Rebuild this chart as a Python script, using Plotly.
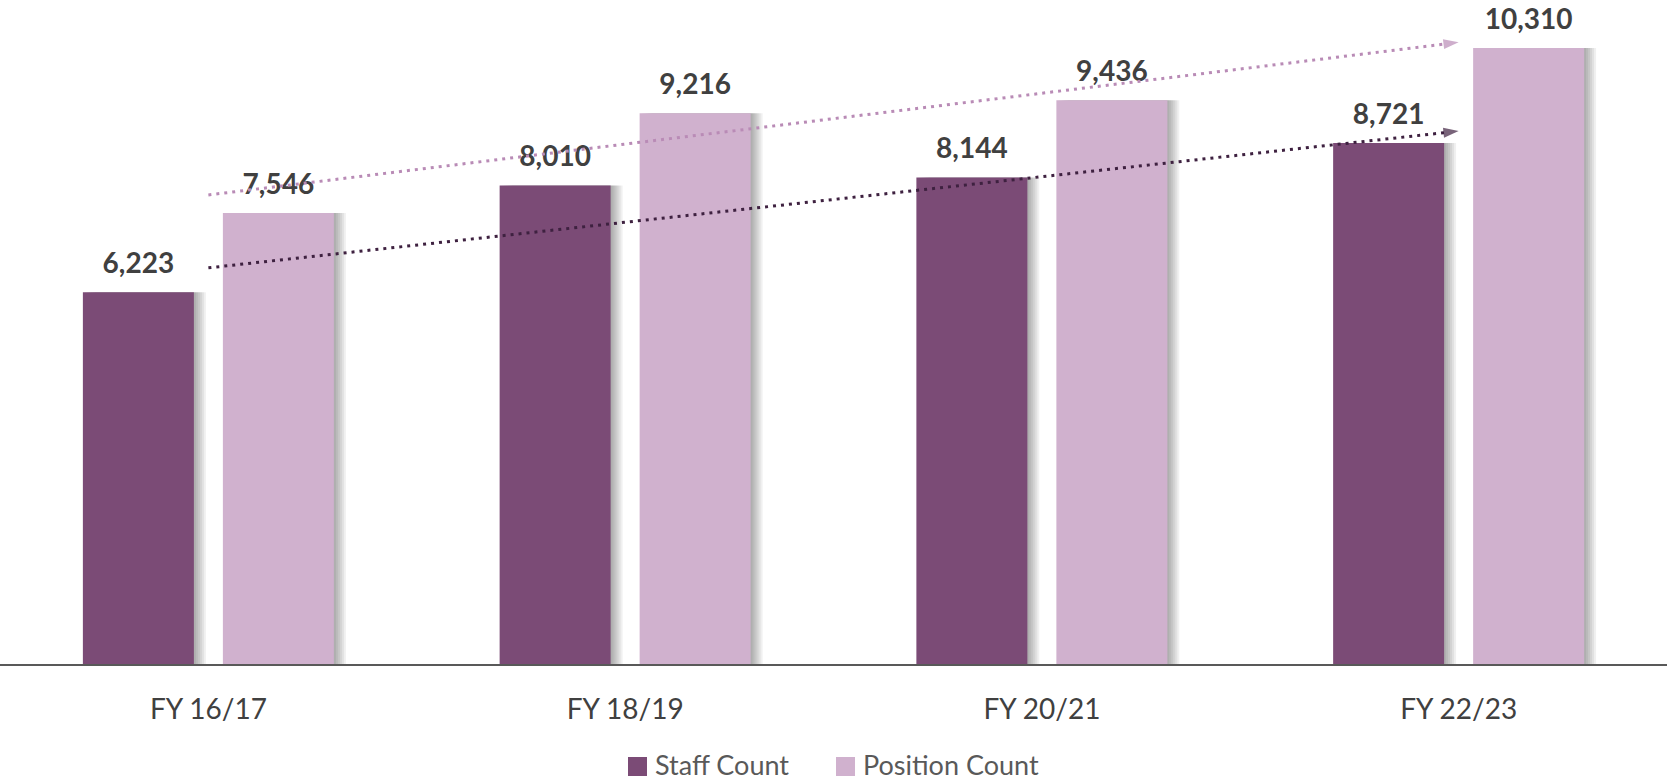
import plotly.graph_objects as go
import numpy as np

categories = ["FY 16/17", "FY 18/19", "FY 20/21", "FY 22/23"]
staff_count = [6223, 8010, 8144, 8721]
position_count = [7546, 9216, 9436, 10310]
series_names = ["Staff Count", "Position Count"]

STAFF_COLOR = "#7B4B76"
POS_COLOR = "#D0B1CE"
STAFF_TREND = "#3E2140"
POS_TREND = "#B98BB6"
TEXT_COLOR = "#404040"
FONT = "Lato"

W, H = 1667, 781
M_L, M_R, M_T, M_B = 0, 0, 20, 117
plot_w = W - M_L - M_R
plot_h = H - M_T - M_B
YMAX = 10778
px_x = 4.0 / plot_w          # data units per px along x
px_y = YMAX / plot_h         # data units per px along y

bar_w = 111 * px_x
staff_off = -125.5 * px_x
pos_off = 14.5 * px_x

xi = np.arange(len(categories))

fig = go.Figure()

# soft right-hand shadows
for vals, off in [(staff_count, staff_off), (position_count, pos_off)]:
    for k in range(1, 7):
        fig.add_trace(go.Bar(
            x=xi, y=vals, width=bar_w, offset=off + k * 2 * px_x,
            marker=dict(color="rgba(0,0,0,0.06)", line=dict(width=0)),
            showlegend=False, hoverinfo="skip"))

fig.add_trace(go.Bar(x=xi, y=staff_count, width=bar_w, offset=staff_off,
                     name=series_names[0], marker=dict(color=STAFF_COLOR, line=dict(width=0))))
fig.add_trace(go.Bar(x=xi, y=position_count, width=bar_w, offset=pos_off,
                     name=series_names[1], marker=dict(color=POS_COLOR, line=dict(width=0))))

# value labels
for vals, off in [(staff_count, staff_off), (position_count, pos_off)]:
    fig.add_trace(go.Scatter(
        x=xi + off + bar_w / 2, y=[v + 12 * px_y for v in vals], mode="text",
        text=[f"{v:,}" for v in vals], textposition="top center", cliponaxis=False,
        textfont=dict(family=FONT, size=28, color=TEXT_COLOR, weight="bold"),
        showlegend=False, hoverinfo="skip"))

# linear trendlines
for vals, col in [(staff_count, STAFF_TREND), (position_count, POS_TREND)]:
    slope, inter = np.polyfit(xi, vals, 1)
    tx = np.array([xi[0], xi[-1]], dtype=float)
    ty = slope * tx + inter
    fig.add_trace(go.Scatter(
        x=tx, y=ty, mode="lines+markers", cliponaxis=False,
        line=dict(color=col, width=3, dash="3px,5px"),
        marker=dict(symbol="arrow", angleref="previous", size=[0, 16], color=col,
                    line=dict(width=0)),
        showlegend=False, hoverinfo="skip"))

def py(pix):
    return (H - M_B - pix) / plot_h

# manual legend
leg = [(628, series_names[0], STAFF_COLOR), (836, series_names[1], POS_COLOR)]
for x0, name, col in leg:
    fig.add_shape(type="rect", xref="paper", yref="paper",
                  x0=x0 / W, x1=(x0 + 19) / W, y0=py(776), y1=py(757),
                  fillcolor=col, line=dict(width=0))
    fig.add_annotation(xref="paper", yref="paper", x=(x0 + 25) / W, y=py(764),
                       xanchor="left", yanchor="middle", text=name, showarrow=False,
                       font=dict(family=FONT, size=27, color="#595959"))

fig.update_layout(
    width=W, height=H, barmode="overlay",
    margin=dict(l=M_L, r=M_R, t=M_T, b=M_B),
    paper_bgcolor="white", plot_bgcolor="white",
    showlegend=False,
    xaxis=dict(range=[-0.5, 3.5], tickmode="array", tickvals=list(xi), ticktext=categories,
               showgrid=False, zeroline=False, showline=True, linecolor="#595959", linewidth=2,
               ticks="", ticklabelstandoff=19,
               tickfont=dict(family=FONT, size=28, color="#404040")),
    yaxis=dict(range=[0, YMAX], visible=False, showgrid=False, zeroline=False),
)

fig.write_html("out.html", config={"displayModeBar": False},
               post_script="document.body.style.margin='0';document.body.style.overflow='hidden';")
